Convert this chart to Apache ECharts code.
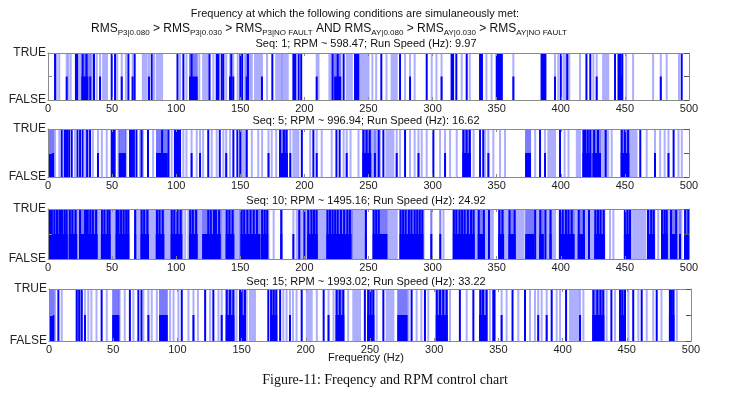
<!DOCTYPE html>
<html><head><meta charset="utf-8">
<script src="https://cdn.jsdelivr.net/npm/echarts@6/dist/echarts.min.js"></script>
<style>html,body{margin:0;padding:0;background:#fff}#c{width:746px;height:395px}</style>
</head><body><div id="c"></div>
<script>
// ---------- data (frequency in Hz; [a,b] = run of consecutive true frequencies) ----------
const xTicks = [0,50,100,150,200,250,300,350,400,450,500];
const yTickLabels = ['FALSE','','TRUE'];
const panelTitles = [
  'Seq: 1; RPM ~ 598.47; Run Speed (Hz): 9.97',
  'Seq: 5; RPM ~ 996.94; Run Speed (Hz): 16.62',
  'Seq: 10; RPM ~ 1495.16; Run Speed (Hz): 24.92',
  'Seq: 15; RPM ~ 1993.02; Run Speed (Hz): 33.22'
];
// light = condition met (full-height faint line), dark = full-height strong line, half = strong lower-half mark
const light1 = [6.8,8.8,15.9,17.7,25,[26.8,30.7],[31.5,34.8],38,[43,46],54,60.8,[74,77],82.7,[84.8,87.4],89,103,108,[110.8,116],118,[121,125],129,139,148,153.7,[155,157.6],159,[161.5,165.4],170.9,[178,182],[183,187],211,[219.5,222.6],[224,228],[233,237],[243.4,250],253,256,264,[268,272],278.5,286,299.3,303,322.7,329,342,346,398,[402,406.6],415,425.4,[433,437],451,456.4,472,482.6,492.2];
const dark1 = [5.5,21.8,22.9,27,30,35.9,49.7,52.3,62.7,67.6,80.9,101,105.6,112,126,[131.6,133],135.5,136.8,143,150,151.5,156,175,[191.4,193],195.5,197.5,222,226,230.6,[239.5,242],260,274.6,295.4,[314.8,316],318.5,326.6,337,338.5,[350,354],[385,388],400,405,420,423,442.3,[445,446.5],448,494.3];
const half1 = [14.6,[26.8,30.7],33,40.6,57.5,66,78.8,[110.8,116],142,144.5,155,166.9,209.6,[224,228],282.4,307,363,395.5,428,447,478];

const light2 = [[0,4],5.5,8.8,21,[29,31.5],35,42,45.8,55,[56,60],61,71.8,74,82,[85,92.6],96.5,105.6,108,116,121,127.7,131.6,136.8,142,[149.8,155],159,164,167,174.5,178,[181,186.3],[191.4,195.3],204.5,213.5,221.3,230.6,236,242.2,[246,259],[264,269.4],274.6,282.4,286,291.5,295.4,305.8,313.6,318.8,[324,329],332,341,347.4,352.6,356.5,[372.9,376],380,[390.3,395.5],403,406,[412.5,415],[417.7,437],439.7,[447.5,459],467,477.5,481,491.8,494.4];
const dark2 = [10.7,[13,15],16.5,18.5,23,25,27,30.5,32.8,[49.7,52],[64,65.5],67,69,73,78,89,94,[99,103],125,134,144.6,147.7,150,155,181,184,186,198,207,225,227.5,246,248.5,251,258,261.6,278.5,300.6,324,326.5,329,337,339.5,383.8,399.4,[417.7,419],421,423,426,429,435,447.5,450,452.5,462,488];
const half2 = [[0,4],39,[56,60],[85,92.6],112,118.6,139,172,[181,186.3],189,209.6,233,[246,251.4],255,272,289,309.7,[324,329],343.5,[372.9,376],387.7,[417.7,423],[425.4,430.6],[447.5,452.7],473.5,484];

const light3 = [[0,15],[16,28],[29,40],[42,52],[53,63],[68,96],[97,105],107,109.5,[110.8,135],[136,150],[150,172],176,182,[194,202],[203,237],[237.5,247],248,[254,272],[275,293],299,306,308.5,[316,347],[352,371],[373,395.5],[399,426],[427,434],438.4,441,[450,455],[456.6,466],[468,473],476,[479,494],[497,500]];
const dark3 = [[0,3],5,7,[9,11],13,14.5,17,19,21.5,25,[29,31],33,35,37.5,42,44,46.5,48,[53.6,55],57,59,61,62.6,68,73,75,77.5,85,87,89.5,96.5,98.5,101,103.5,111,113,115.5,125,127,129.5,131,133.5,139.4,141.5,144,151,153,155.5,158,160.5,163,167,169,171,182,196,200,203,205.5,207.5,209.5,218,220,222,224,226,228.5,231,233.5,235.5,248,254,256,258,275,277,279,281.5,283.5,286,288,290,292,316.6,318.5,321,323,325,327.5,330,332,336,340,344,352,354.5,360,364,380,384,388,392,399.4,401.5,404,406,408.5,414,418,422,427,429,431,433.5,450,452,454,468,470.5,472.5,479,481,482.6,486,490,497,499.5];
const half3 = [[0,14.5],[17,22],[25,27.5],[29,38],[42,48],[53.6,62.6],68,[73,78],[84.8,90],[96.5,104],[110.8,116],[121,134],[139.4,144.6],[151,165],[167,171],182,191.4,[203,209.6],[218,236],248,[254,264],[275,292],299,306,[316.6,332],[336,340],344,[352,355],[360,364],[373,378.6],[384,386],392,[399.4,410],[414,418],422,[427,433.5],[450,454],[468,472.5],[479,482.6],[486,490],493,[497,499.5]];

const light4 = [[1,3.4],4.7,9.9,[21.6,25.5],30.6,33,37,45,[50,54],55,59,65.7,73.5,80,84,[86.5,91.7],94.3,97,100.8,108.6,116,125.5,132,[138.4,143.6],146,[148.8,152.6],154,[156.5,160.4],[173,177],182.5,185,190,192.8,[200.8,204.6],208.6,221.6,[224,229.2],233,[237,242.2],[248.6,252.6],255.2,[263,268.2],[272,278.5],280,286.3,290,295.4,[302,309.7],312.3,325.3,[335.7,339.6],343.4,356.4,365.5,374.6,378.5,383.7,395.4,398,[405.8,412.3],416.2,[423.9,431.7],434.3,440.8,[444.7,448.6],451.2,459,465.5,470.6,477,[483.6,486.3],489];
const dark4 = [7.3,21.6,23.5,25.5,41,63,69.6,72,103.4,121.6,128,138.4,141,143.6,148.8,150,152.6,170.8,173,175,177,180,196.8,213.9,224,226.5,229.2,246,248.6,250.5,252.6,260.4,282.4,292.8,302,304.5,307,309.7,320,330.5,336,338,340.9,346,347,361,370.7,391.5,402.7,424,427,429.5,431.7,438,444.7,446.5,448.6,455,461.6,473.3,483.6,485,486.3];
const half4 = [[1,3.4],28,[50,54],77.4,[86.5,91.7],112.5,134.5,[138.4,143.6],[148.8,152.6],[173,177],187.7,217.7,[224,229.2],[248.6,252.6],[272,278.5],[302,309.7],[335.7,339.6],352.5,381,387.6,413.6,[423.9,431.7],[444.7,448.6],[483.6,486.3]];

const panels = [[light1,dark1,half1],[light2,dark2,half2],[light3,dark3,half3],[light4,dark4,half4]];

// ---------- layout ----------
const grids = [
  {left:48,right:57,top:53,height:47},
  {left:48,right:57,top:129,height:48},
  {left:48,right:57,top:209,height:50},
  {left:49,right:55,top:289,height:52}
];
const titleY = [44,121,201,282];
const AX = '#8a8a8a';
const FONT = '"Liberation Sans", Arial, sans-serif';

function toSpans(arr, top){
  return arr.map(v => Array.isArray(v) ? [v[0], v[1], top] : [v, v, top]);
}
function renderItem(params, api){
  const a = api.value(0), b = api.value(1), top = api.value(2);
  const p0 = api.coord([a, 0]);
  const p1 = api.coord([b, top]);
  const w = Math.max(p1[0]-p0[0], 0) + 2;
  return {type:'rect', shape:{x:p0[0]-1, y:p1[1], width:w, height:p0[1]-p1[1]},
          style:{fill: api.visual('color')}};
}

const xAxis = [], yAxis = [], series = [];
grids.forEach((g,i) => {
  xAxis.push({type:'value', gridIndex:i, min:0, max:500, interval:50, position:'bottom',
    axisLine:{show:true,onZero:false,lineStyle:{color:AX,width:1}},
    axisTick:{show:true,inside:true,length:3,lineStyle:{color:AX}},
    axisLabel:{show:true,color:'#222',fontSize:11,fontFamily:FONT,margin:3,
      formatter:v => xTicks.indexOf(v) >= 0 ? String(v) : ''},
    splitLine:{show:false}, z:5});
  xAxis.push({type:'value', gridIndex:i, min:0, max:500, interval:50, position:'top',
    axisLine:{show:true,onZero:false,lineStyle:{color:AX,width:1}},
    axisTick:{show:true,inside:true,length:3,lineStyle:{color:AX}},
    axisLabel:{show:false}, splitLine:{show:false}, z:5});
  yAxis.push({type:'value', gridIndex:i, min:0, max:1, interval:0.5, position:'left',
    axisLine:{show:true,onZero:false,lineStyle:{color:AX,width:1}},
    axisTick:{show:true,inside:true,length:4,lineStyle:{color:AX}},
    axisLabel:{show:true,color:'#222',fontSize:12,fontFamily:FONT,margin:2,
      formatter:v => yTickLabels[Math.round(v*2)]},
    splitLine:{show:false}, z:5});
  yAxis.push({type:'value', gridIndex:i, min:0, max:1, interval:0.5, position:'right',
    axisLine:{show:true,onZero:false,lineStyle:{color:AX,width:1}},
    axisTick:{show:true,inside:true,length:5,lineStyle:{color:'#555'}},
    axisLabel:{show:false}, splitLine:{show:false}, z:5});
  const [L,D,H] = panels[i];
  const common = {type:'custom', xAxisIndex:2*i, yAxisIndex:2*i, renderItem, clip:true,
    encode:{x:[0,1], y:2}, silent:true, animation:false};
  series.push(Object.assign({}, common, {name:'light'+i, data: toSpans(L,1).concat(toSpans(H,1)), itemStyle:{color:'rgba(30,30,255,0.36)'}}));
  series.push(Object.assign({}, common, {name:'half'+i, data: toSpans(H,0.5), itemStyle:{color:'#0000ff'}}));
  series.push(Object.assign({}, common, {name:'dark'+i, data: toSpans(D,1), itemStyle:{color:'#0000ff'}}));
});

const graphic = [
  {type:'text', x:355, y:14, style:{text:'Frequency at which the following conditions are simulaneously met:',
    font:'11px '+FONT, fill:'#111', align:'center', verticalAlign:'middle'}},
  {type:'text', x:329, y:29, style:{
    text:'RMS{s|P3|0.080} > RMS{s|P3|0.030} > RMS{s|P3|NO FAULT} AND RMS{s|AY|0.080} > RMS{s|AY|0.030} > RMS{s|AY|NO FAULT}',
    font:'12px '+FONT, fill:'#111', align:'center', verticalAlign:'middle',
    rich:{s:{fontSize:8, fontFamily:FONT, fill:'#111', padding:[8,0,0,0]}}}},
  {type:'text', x:366, y:358, style:{text:'Frequency (Hz)', font:'11px '+FONT, fill:'#111', align:'center', verticalAlign:'middle'}},
  {type:'text', x:385, y:380, style:{text:'Figure-11: Freqency and RPM control chart', font:'14px "Liberation Serif", "Times New Roman", serif', fill:'#111', align:'center', verticalAlign:'middle'}}
];
panelTitles.forEach((t,i) => graphic.push({type:'text', x:366, y:titleY[i],
  style:{text:t, font:'11px '+FONT, fill:'#111', align:'center', verticalAlign:'middle'}}));

const chart = echarts.init(document.getElementById('c'), null, {renderer:'canvas'});
chart.setOption({backgroundColor:'#fff', animation:false, grid:grids, xAxis, yAxis, series, graphic});
</script></body></html>
